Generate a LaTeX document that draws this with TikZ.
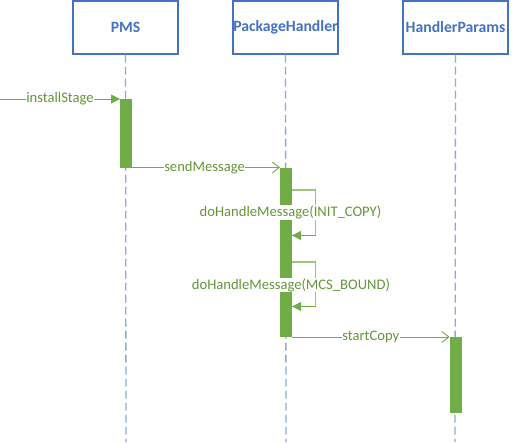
\documentclass[tikz,border=0pt]{standalone}
\usepackage{fontspec}
\setmainfont{Carlito}
\usetikzlibrary{arrows.meta}
\definecolor{boxblue}{HTML}{4472C4}
\definecolor{lifeblue}{HTML}{8FAADC}
\definecolor{barg}{HTML}{70AD47}
\definecolor{loopg}{HTML}{9CC67E}
\definecolor{txtg}{HTML}{64963A}
\tikzset{
  x=1pt,y=-1pt,
  actor/.style={draw=boxblue,line width=1.2pt,fill=white,minimum width=105pt,minimum height=53pt,
    inner sep=0pt,text=boxblue,font=\fontsize{15.7}{18}\selectfont\bfseries},
  lifeline/.style={draw=lifeblue,line width=1.3pt,dash pattern=on 8pt off 4pt},
  actbar/.style={fill=barg,draw=none},
  msg/.style={draw=barg,line width=1pt},
  loopline/.style={draw=loopg,line width=1.1pt},
  lbl/.style={fill=white,inner sep=0.5pt,text=txtg,font=\fontsize{14.6}{16}\selectfont},
  filledtip/.style={-{Triangle[length=9pt,width=9pt]}},
  opentip/.style={-{Straight Barb[length=7pt,width=11pt,line width=0.9pt]}}
}
\begin{document}
\begin{tikzpicture}
\useasboundingbox[fill=white] (0,0) rectangle (519,442);
% actors
\node[actor] (pms) at (125.5,27.5) {PMS};
\node[actor] (ph) at (285.5,27.5) {PackageHandler};
\node[actor] (hp) at (455.5,27.5) {HandlerParams};
% lifeline ends
\coordinate (pmsend) at (126,442);
\coordinate (phend) at (286,442);
\coordinate (hpend) at (455,442);
\draw[lifeline] (pms.south) -- (pmsend);
\draw[lifeline] (ph.south) -- (phend);
\draw[lifeline] (hp.south) -- (hpend);
% activation bars
\path[actbar] (120,99) rectangle (132,167.5);
\path[actbar] (280,167.5) rectangle (292,337);
\path[actbar] (449.5,337) rectangle (461.5,412.5);
% anchor coordinates
\coordinate (start) at (0,99);
\coordinate (pmsbartl) at (120,99);
\coordinate (pmsbarr) at (132,167.5);
\coordinate (phbarl) at (280,167.5);
\coordinate (ph1) at (292,190);
\coordinate (ph1c) at (315.5,190);
\coordinate (ph1d) at (315.5,235.5);
\coordinate (ph1e) at (292,235.5);
\coordinate (ph2) at (292,262);
\coordinate (ph2c) at (315.5,262);
\coordinate (ph2d) at (315.5,306.5);
\coordinate (ph2e) at (292,306.5);
\coordinate (phbarr) at (292,337);
\coordinate (hpbarl) at (449.5,337);
% messages
\draw[msg,filledtip] (start) -- node[lbl]{installStage} (pmsbartl);
\draw[msg,opentip] (pmsbarr) -- node[lbl,pos=0.49]{sendMessage} (phbarl);
\draw[loopline] (ph1) -- (ph1c) -- (ph1d) -- (ph1e);
\draw[msg,filledtip] (ph1d) -- (ph1e);
\draw[loopline] (ph2) -- (ph2c) -- (ph2d) -- (ph2e);
\draw[msg,filledtip] (ph2d) -- (ph2e);
\draw[msg,opentip] (phbarr) -- node[lbl,pos=0.5]{startCopy} (hpbarl);
% self-message labels
\node[lbl] (l1) at (290.5,212.5) {doHandleMessage(INIT\_COPY)};
\node[lbl] (l2) at (291,285) {doHandleMessage(MCS\_BOUND)};
\end{tikzpicture}
\end{document}
